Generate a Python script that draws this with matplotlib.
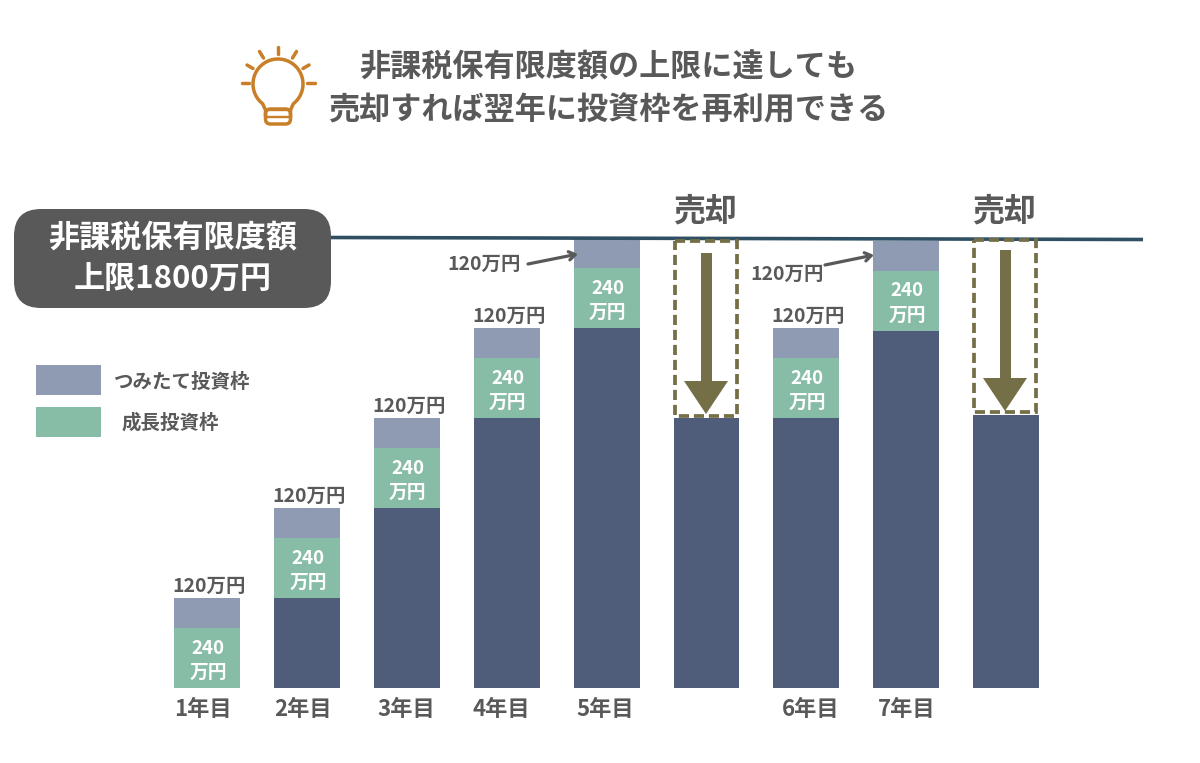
import numpy as np
import matplotlib
matplotlib.use("Agg")
import matplotlib.pyplot as plt
from matplotlib.patches import FancyBboxPatch, Rectangle, Polygon

plt.rcParams['font.family'] = ['Noto Sans CJK JP', 'DejaVu Sans']

# values in 万円, one entry per bar (the two sold bars have no new money on top)
year_labels = ['1年目', '2年目', '3年目', '4年目', '5年目', '', '6年目', '7年目', '']
held = [0, 360, 720, 1080, 1440, 1080, 1080, 1428, 1092]
growth = [240, 240, 240, 240, 240, 0, 240, 240, 0]
tsumitate = [120, 120, 120, 120, 120, 0, 120, 120, 0]

NAVY = '#4F5D7B'; LAV = '#8F9BB3'; GREEN = '#87BCA6'
TXT = '#595959'; OLIVE = '#756F47'; LINE = '#2F4F63'; LAMP = '#C87F27'

fig = plt.figure(figsize=(12, 7.63), dpi=100)

# bars on a value axis, scaled so that 1 万円 = 0.25 px and one slot = 99.9 px
ax = fig.add_axes([0, 0, 1, 1])
ax.set_xlim(-207/99.9, (1200-207)/99.9)
ax.set_ylim(-75/0.25, 688/0.25)
ax.axis('off')

x = np.arange(len(held))
held = np.array(held); growth = np.array(growth); tsumitate = np.array(tsumitate)
ax.bar(x, held, 0.66, color=NAVY)
ax.bar(x, growth, 0.66, bottom=held, color=GREEN)
ax.bar(x, tsumitate, 0.66, bottom=held+growth, color=LAV)
for i in x:
    if growth[i] == 0:
        continue
    mid = held[i] + growth[i]/2
    ax.text(i+0.01, mid+40, '240', ha='center', va='center', color='white', fontsize=13.5, fontweight='bold')
    ax.text(i+0.01, mid-56, '万円', ha='center', va='center', color='white', fontsize=13.5, fontweight='bold')
    if held[i] + growth[i] + tsumitate[i] < 1700:
        ax.text(i+0.02, held[i]+growth[i]+tsumitate[i]+46, '120万円', ha='center', va='center',
                color=TXT, fontsize=14, fontweight='bold')

# everything else is placed in image pixels
px = fig.add_axes([0, 0, 1, 1], facecolor='none')
px.set_xlim(0, 1200); px.set_ylim(763, 0); px.axis('off')

px.text(608.5, 67, '非課税保有限度額の上限に達しても', ha='center', va='center', color=TXT, fontsize=22.4, fontweight='bold')
px.text(608.5, 110, '売却すれば翌年に投資枠を再利用できる', ha='center', va='center', color=TXT, fontsize=22.4, fontweight='bold')

# light bulb
cx, cy, r = 278, 84, 25
lw_lamp = 2.5
a = np.radians(np.linspace(128, 412, 80))
bx = cx + r*np.cos(a); by = cy + r*np.sin(a)
px.plot(np.r_[265.5, 265.5, bx, 290.5, 290.5], np.r_[116, 110, by, 110, 116],
        color=LAMP, lw=lw_lamp, solid_capstyle='round', solid_joinstyle='round')
px.add_patch(FancyBboxPatch((265.5, 109), 25, 15, boxstyle='round,pad=0,rounding_size=5', fc='none', ec=LAMP, lw=lw_lamp))
px.plot([265.5, 290.5], [110, 110], color=LAMP, lw=1.7)
px.plot([265.5, 290.5], [117, 117], color=LAMP, lw=1.7)
for (x0, y0, x1, y1) in [(241.5, 83, 249, 83), (247, 65, 253, 68.5), (259.5, 51.5, 263.5, 58), (278, 47, 278, 54),
                         (296.5, 51.5, 292.5, 58), (309, 65, 303, 68.5), (315, 83, 307, 83)]:
    px.plot([x0, x1], [y0, y1], color=LAMP, lw=lw_lamp, solid_capstyle='round')

# limit line and pill
px.plot([331, 1143], [237.5, 239.5], color=LINE, lw=2.6, solid_capstyle='butt')
px.add_patch(FancyBboxPatch((14, 209), 317, 99, boxstyle='round,pad=0,rounding_size=27', fc=TXT, ec='none', zorder=3))
px.text(173, 237, '非課税保有限度額', ha='center', va='center', color='white', fontsize=22.4, fontweight='bold', zorder=4)
px.text(173, 280, '上限1800万円', ha='center', va='center', color='white', fontsize=22.4, fontweight='bold', zorder=4)

# legend
px.add_patch(Rectangle((36, 365), 65, 30, fc=LAV, ec='none'))
px.add_patch(Rectangle((36, 407), 65, 30, fc=GREEN, ec='none'))
px.text(182, 382, 'つみたて投資枠', ha='center', va='center', color=TXT, fontsize=14, fontweight='bold')
px.text(170.5, 423, '成長投資枠', ha='center', va='center', color=TXT, fontsize=14, fontweight='bold')

# year labels
for lab, xp in zip(year_labels, [203, 303, 406, 501, 605, 0, 811, 907, 0]):
    if lab:
        px.text(xp, 710, lab, ha='center', va='center', color=TXT, fontsize=16, fontweight='bold')

# sold markers
for bx0, top, bot, ay0, ay1 in [(675, 241, 416, 253, 414), (974, 240, 412, 250, 411)]:
    px.add_patch(Rectangle((bx0, top), 62, bot-top, fc='none', ec=OLIVE, lw=2.7, ls=(0, (2.7, 1.3)), zorder=3))
    c = bx0 + 31
    px.add_patch(Rectangle((c-5.5, ay0), 11, ay1-33-ay0, fc=OLIVE, ec='none', zorder=3))
    px.add_patch(Polygon([(c-22, ay1-33), (c+22, ay1-33), (c, ay1)], fc=OLIVE, ec='none', zorder=3))
    px.text(bx0+30, 212, '売却', ha='center', va='center', color=TXT, fontsize=23, fontweight='bold')

# side labels with arrows
for tx, ty, a0, a1 in [(484, 264, (528, 264), (578, 254)), (787, 274, (825, 265), (874, 255))]:
    px.text(tx, ty, '120万円', ha='center', va='center', color=TXT, fontsize=14, fontweight='bold')
    px.annotate('', xy=a1, xytext=a0, zorder=5,
                arrowprops=dict(arrowstyle='->,head_length=0.45,head_width=0.3', color=TXT, lw=2.3,
                                shrinkA=0, shrinkB=0))

fig.savefig('out.png', dpi=100)
